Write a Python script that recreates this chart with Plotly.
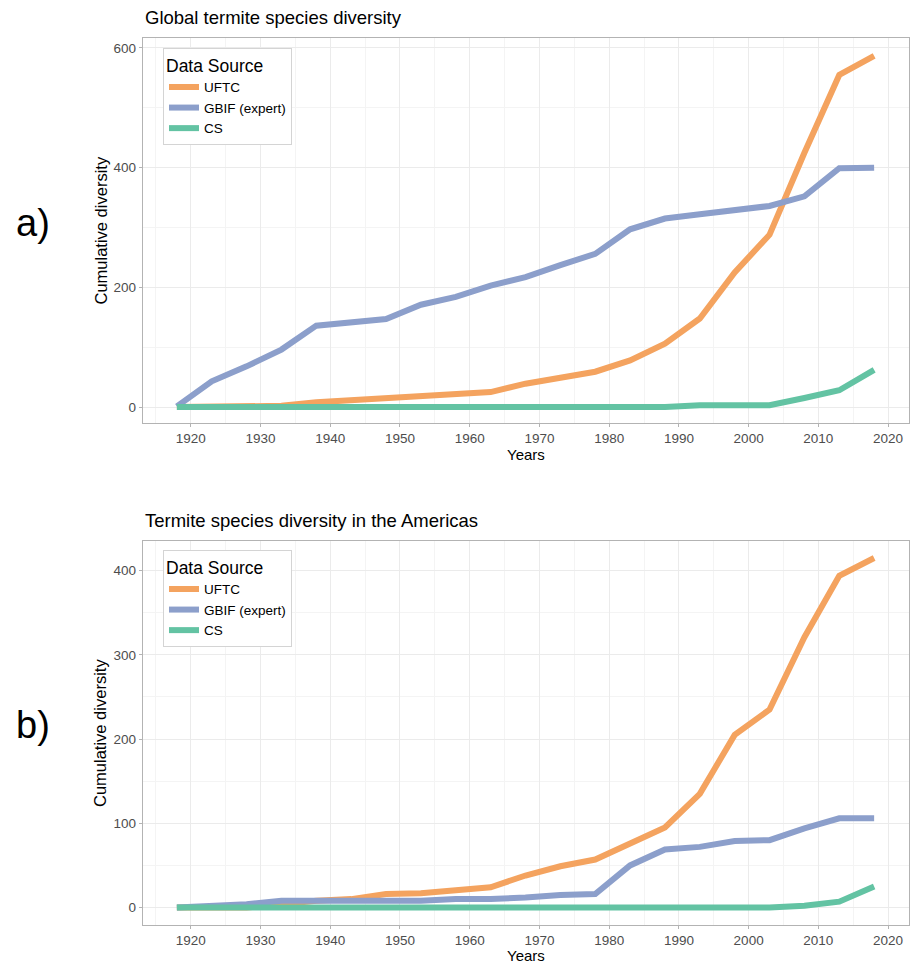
import plotly.graph_objects as go

# Survey years (5-year steps)
years = [1918, 1923, 1928, 1933, 1938, 1943, 1948, 1953, 1958, 1963, 1968,
         1973, 1978, 1983, 1988, 1993, 1998, 2003, 2008, 2013, 2018]

# Cumulative species diversity, global
uftc_global = [0, 0, 0, 2, 8, 11, 16, 18, 21, 25, 39, 50, 59, 78, 106, 148, 225, 288, 425, 555, 587]
gbif_global = [1, 43, 68, 96, 136, 141, 147, 171, 184, 203, 217, 237, 256, 297, 315, 322, 329, 336, 352, 399, 400]
cs_global = [0, 0, 0, 0, 0, 0, 0, 0, 0, 0, 0, 0, 0, 0, 0, 3, 3, 3, 15, 28, 62]

# Cumulative species diversity, Americas
uftc_americas = [0, 0, 0, 4, 8, 10, 16, 17, 20, 24, 38, 49, 57, 76, 95, 135, 205, 235, 321, 394, 415]
gbif_americas = [0, 2, 4, 8, 8, 8, 8, 8, 10, 10, 12, 15, 16, 50, 69, 72, 79, 80, 94, 106, 106]
cs_americas = [0, 0, 0, 0, 0, 0, 0, 0, 0, 0, 0, 0, 0, 0, 0, 0, 0, 0, 2, 7, 25]

source_names = ["UFTC", "GBIF (expert)", "CS"]
source_colors = ["#F4A35F", "#8C9FCB", "#63C3A3"]

panel_titles = ["Global termite species diversity", "Termite species diversity in the Americas"]
panel_labels = ["a)", "b)"]

FONT = "Liberation Sans, Arial, sans-serif"
W, H = 913, 964

fig = go.Figure()

panels = [
    (uftc_global, gbif_global, cs_global),
    (uftc_americas, gbif_americas, cs_americas),
]
for p, series in enumerate(panels):
    xa = "x" if p == 0 else "x2"
    ya = "y" if p == 0 else "y2"
    lg = "legend" if p == 0 else "legend2"
    for name, vals, col in zip(source_names, series, source_colors):
        fig.add_trace(go.Scatter(
            x=years, y=vals, mode="lines", name=name,
            line=dict(color=col, width=6),
            xaxis=xa, yaxis=ya, legend=lg,
        ))

# Panel geometry in pixels (left, right, top, bottom)
px_left, px_right = 142.7, 909
top_panel = (38, 423)
bot_panel = (541, 925)
# vertical centre of the "Years" title for each panel
xtitle_y = [454, 955.5]


def ydom(t, b):
    return [1 - b / H, 1 - t / H]


xdom = [px_left / W, px_right / W]

axis_common = dict(
    showline=True, mirror=True, linecolor="#B3B3B3", linewidth=1,
    showgrid=True, gridcolor="#EBEBEB", gridwidth=1,
    zeroline=False, ticks="outside", ticklen=3, tickcolor="#B3B3B3",
    tickfont=dict(family=FONT, size=13.5, color="#4D4D4D"),
)

xticks = [1920, 1930, 1940, 1950, 1960, 1970, 1980, 1990, 2000, 2010, 2020]
x_minor = [1915, 1925, 1935, 1945, 1955, 1965, 1975, 1985, 1995, 2005, 2015]

fig.update_layout(
    width=W, height=H,
    margin=dict(l=0, r=0, t=0, b=0),
    paper_bgcolor="white", plot_bgcolor="white",
    showlegend=True,
    xaxis=dict(domain=xdom, anchor="y", range=[1913.1, 2023.0], tickvals=xticks,
               minor=dict(tickvals=x_minor, showgrid=True, gridcolor="#F4F4F4", gridwidth=0.6),
               **axis_common),
    yaxis=dict(domain=ydom(*top_panel), anchor="x", range=[-26.7, 616.7],
               tickvals=[0, 200, 400, 600],
               minor=dict(tickvals=[100, 300, 500], showgrid=True, gridcolor="#F4F4F4", gridwidth=0.6),
               **axis_common),
    xaxis2=dict(domain=xdom, anchor="y2", range=[1913.1, 2023.0], tickvals=xticks,
                minor=dict(tickvals=x_minor, showgrid=True, gridcolor="#F4F4F4", gridwidth=0.6),
                **axis_common),
    yaxis2=dict(domain=ydom(*bot_panel), anchor="x2", range=[-20.75, 435.2],
                tickvals=[0, 100, 200, 300, 400],
                minor=dict(tickvals=[50, 150, 250, 350], showgrid=True, gridcolor="#F4F4F4", gridwidth=0.6),
                **axis_common),
)

legend_common = dict(
    bgcolor="white", bordercolor="#D4D4D4", borderwidth=1,
    font=dict(family=FONT, size=13.5, color="black"),
    title=dict(text="Data Source", font=dict(family=FONT, size=17.5, color="black")),
    itemwidth=30, xanchor="left", yanchor="top", tracegroupgap=0,
)
fig.update_layout(
    legend=dict(x=163 / W, y=1 - 48 / H, **legend_common),
    legend2=dict(x=163 / W, y=1 - 550 / H, **legend_common),
)

annotations = []
for p, (t, b) in enumerate([top_panel, bot_panel]):
    # panel title
    annotations.append(dict(
        text=panel_titles[p], xref="paper", yref="paper",
        x=px_left / W, y=1 - (t - 8) / H, xanchor="left", yanchor="bottom",
        showarrow=False, font=dict(family=FONT, size=18.5, color="black"),
    ))
    # y-axis title
    annotations.append(dict(
        text="Cumulative diversity", xref="paper", yref="paper",
        x=100 / W, y=1 - ((t + b) / 2) / H, xanchor="center", yanchor="middle",
        textangle=-90, showarrow=False, font=dict(family=FONT, size=16.5, color="black"),
    ))
    # x-axis title
    annotations.append(dict(
        text="Years", xref="paper", yref="paper",
        x=((px_left + px_right) / 2) / W, y=1 - xtitle_y[p] / H, xanchor="center", yanchor="middle",
        showarrow=False, font=dict(family=FONT, size=15, color="black"),
    ))
    # panel tag
    annotations.append(dict(
        text=panel_labels[p], xref="paper", yref="paper",
        x=33 / W, y=1 - ((t + b) / 2 - 8) / H, xanchor="center", yanchor="middle",
        showarrow=False, font=dict(family=FONT, size=38, color="black"),
    ))
fig.update_layout(annotations=annotations)

fig.write_html("out.html")
